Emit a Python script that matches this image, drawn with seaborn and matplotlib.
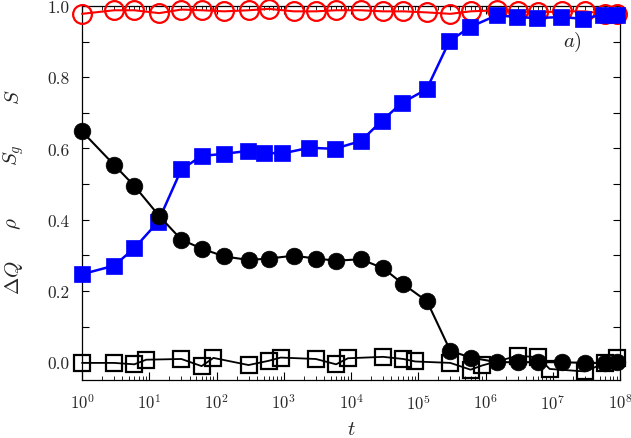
import matplotlib
matplotlib.use("Agg")
from matplotlib import pyplot as plt
from matplotlib import ticker
import numpy as np
import pandas as pd
import seaborn as sns

# time points
t_main = [1, 3, 6, 14, 30, 60, 130, 300, 600, 1400, 3000, 6000, 14000,
          3e4, 6e4, 1.35e5, 3e5, 6e5, 1.5e6, 3e6, 6e6, 1.35e7, 3e7, 6e7, 9e7]
t_sg = [1, 3, 6, 13.5, 30, 60, 130, 290, 500, 950, 2400, 5700, 14000,
        2.85e4, 5.7e4, 1.33e5, 2.9e5, 5.9e5, 1.47e6, 2.9e6, 5.75e6, 1.32e7, 2.85e7, 5.6e7, 8.9e7]
t_dq = [1, 3, 6, 9, 30, 60, 90, 300, 600, 900, 3000, 6000, 9000,
        3e4, 6e4, 9e4, 3e5, 6e5, 9e5, 3e6, 6e6, 9e6, 3e7, 6e7, 9e7]

S = [0.978, 0.988, 0.988, 0.980, 0.990, 0.988, 0.985, 0.988, 0.992, 0.985,
     0.985, 0.988, 0.988, 0.985, 0.985, 0.982, 0.978, 0.985, 0.988, 0.985,
     0.982, 0.985, 0.985, 0.978, 0.978]
S_g = [0.247, 0.271, 0.320, 0.394, 0.541, 0.579, 0.585, 0.593, 0.588, 0.586,
       0.602, 0.599, 0.621, 0.677, 0.728, 0.766, 0.901, 0.941, 0.974, 0.969,
       0.966, 0.969, 0.964, 0.976, 0.976]
rho = [0.648, 0.554, 0.495, 0.411, 0.344, 0.319, 0.297, 0.287, 0.291, 0.299,
       0.291, 0.285, 0.289, 0.264, 0.219, 0.171, 0.032, 0.013, 0.0, 0.0,
       0.0, 0.0, -0.002, -0.002, 0.0]
dQ = [-0.002, -0.002, -0.006, 0.007, 0.009, -0.011, 0.012, -0.008, 0.004, 0.013,
      0.009, -0.006, 0.011, 0.015, 0.009, 0.002, -0.002, -0.021, -0.009, 0.018,
      0.014, -0.019, -0.026, -0.002, 0.011]

x_ticks = [1, 1e1, 1e2, 1e3, 1e4, 1e5, 1e6, 1e7, 1e8]

sns.set_style("ticks")
plt.rcParams["font.family"] = "serif"
plt.rcParams["font.serif"] = ["cmr10"]
plt.rcParams["mathtext.fontset"] = "cm"
plt.rcParams["axes.formatter.use_mathtext"] = True

fig = plt.figure(figsize=(6.31, 4.39), dpi=100)
ax = fig.add_axes([82/631, 1 - 381/439, 538/631, 374/439])

sns.lineplot(x=t_main, y=S, ax=ax, color="red", lw=1.5, marker="o", markersize=13.5,
             markerfacecolor="none", markeredgecolor="red", markeredgewidth=1.6,
             clip_on=False, zorder=3)
sns.lineplot(x=t_dq, y=dQ, ax=ax, color="black", lw=1.3, marker="s", markersize=11,
             markerfacecolor="none", markeredgecolor="black", markeredgewidth=1.6,
             clip_on=False, zorder=4)
sns.lineplot(x=t_sg, y=S_g, ax=ax, color="blue", lw=1.8, marker="s", markersize=11.5,
             markerfacecolor="blue", markeredgecolor="blue", markeredgewidth=0.5,
             clip_on=False, zorder=5)
sns.lineplot(x=t_main, y=rho, ax=ax, color="black", lw=1.5, marker="o", markersize=12,
             markerfacecolor="black", markeredgecolor="black", markeredgewidth=0.5,
             clip_on=False, zorder=6)

ax.set_xscale("log")
ax.set_xlim(1, 1e8)
ax.set_ylim(-0.05, 1.0)
ax.xaxis.set_major_locator(ticker.FixedLocator(x_ticks))
ax.xaxis.set_major_formatter(ticker.LogFormatterSciNotation())
ax.xaxis.set_minor_locator(ticker.LogLocator(base=10, subs=np.arange(2, 10), numticks=20))
ax.xaxis.set_minor_formatter(ticker.NullFormatter())
ax.yaxis.set_major_locator(ticker.MultipleLocator(0.2))
ax.yaxis.set_minor_locator(ticker.MultipleLocator(0.1))
ax.yaxis.set_major_formatter(ticker.FormatStrFormatter("%.1f"))

ax.tick_params(axis="both", which="both", direction="in", top=True, right=True,
               color="black")
ax.tick_params(axis="x", which="major", length=6, width=0.8, pad=9, labelsize=12)
ax.tick_params(axis="x", which="minor", length=3, width=0.6)
ax.tick_params(axis="y", which="both", length=5, width=0.8, pad=9, labelsize=12.5)
for sp in ax.spines.values():
    sp.set_linewidth(0.9)
    sp.set_color("black")

ax.set_xlabel("$t$", fontsize=15, labelpad=6)
ax.text(0.911, 0.904, "$a)$", transform=ax.transAxes, fontsize=15,
        ha="center", va="center")

# stacked y labels
for lab, ypx in [("$S$", 97), ("$S_g$", 155), ("$\\rho$", 224), ("$\\Delta Q$", 278)]:
    fig.text(14/631, 1 - ypx/439, lab, rotation=90, fontsize=15,
             ha="center", va="center")

fig.savefig("out.png", dpi=100)
